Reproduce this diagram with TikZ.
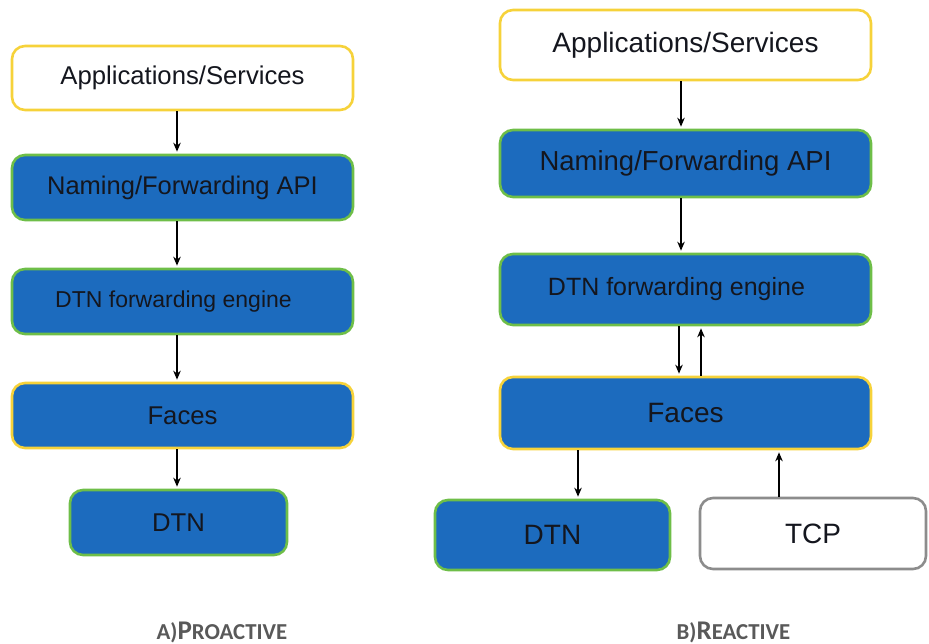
\documentclass[tikz,border=0pt]{standalone}
\usepackage{fontspec}
\setmainfont{Liberation Sans}
\newfontfamily\capfont{Carlito}
\usetikzlibrary{arrows.meta}
\definecolor{boxblue}{RGB}{28,107,190}
\definecolor{bordgreen}{RGB}{110,190,72}
\definecolor{bordyellow}{RGB}{246,210,58}
\definecolor{bordgray}{RGB}{140,140,140}
\definecolor{txtdark}{RGB}{20,22,30}
\definecolor{capgray}{RGB}{89,89,89}
\tikzset{
  layer/.style={rectangle, rounded corners=13pt, line width=2.6pt, inner sep=0pt, text=txtdark},
  bluegreen/.style={layer, fill=boxblue, draw=bordgreen},
  blueyellow/.style={layer, fill=boxblue, draw=bordyellow},
  whiteyellow/.style={layer, fill=white, draw=bordyellow},
  whitegray/.style={layer, fill=white, draw=bordgray},
  lfont/.style={font=\fontsize{25.7}{29}\selectfont},
  rfont/.style={font=\fontsize{28}{32}\selectfont},
  arr/.style={line width=1.9pt, -{Stealth[length=9pt,width=7.5pt]}, shorten >=2pt},
  caption/.style={text=capgray, font=\capfont\bfseries}
}
\newcommand{\bigc}[1]{{\fontsize{27}{30}\selectfont #1}}
\newcommand{\smc}[1]{{\fontsize{22.8}{26}\selectfont #1}}
\begin{document}
\begin{tikzpicture}[x=1pt,y=-1pt]
\useasboundingbox (0,0) rectangle (929,644);
% left column
\node[whiteyellow, lfont, minimum width=341pt, minimum height=64pt] (la) at (182.5,78) {Applications/Services};
\node[bluegreen, font=\fontsize{25.5}{29}\selectfont, minimum width=341pt, minimum height=65pt] (lb) at (182.5,187.5) {Naming/Forwarding API};
\node[bluegreen, font=\fontsize{23}{26}\selectfont, minimum width=341pt, minimum height=65pt] (lc) at (182.5,301.5) {DTN forwarding engine\hspace*{18pt}};
\node[blueyellow, lfont, minimum width=341pt, minimum height=65pt] (ld) at (182.5,415.5) {Faces};
\node[bluegreen, lfont, minimum width=217pt, minimum height=65pt] (le) at (178.5,522.5) {DTN};
\draw[arr] ([xshift=-5.5pt]la.south) -- ([xshift=-5.5pt]lb.north);
\draw[arr] ([xshift=-5.5pt]lb.south) -- ([xshift=-5.5pt]lc.north);
\draw[arr] ([xshift=-5.5pt]lc.south) -- ([xshift=-5.5pt]ld.north);
\draw[arr] ([xshift=-1.5pt]le.north |- ld.south) -- ([xshift=-1.5pt]le.north);
% right column
\node[whiteyellow, rfont, minimum width=371pt, minimum height=70pt] (ra) at (685.5,45) {Applications/Services};
\node[bluegreen, font=\fontsize{27.5}{31}\selectfont, minimum width=371pt, minimum height=67pt] (rb) at (685.5,163.5) {Naming/Forwarding API};
\node[bluegreen, font=\fontsize{25}{29}\selectfont, minimum width=371pt, minimum height=71pt] (rc) at (685.5,289.5) {DTN forwarding engine\hspace*{18pt}};
\node[blueyellow, rfont, minimum width=371pt, minimum height=72pt] (rd) at (685.5,413) {Faces};
\node[bluegreen, rfont, minimum width=235pt, minimum height=70pt] (re) at (552.5,535) {DTN};
\node[whitegray, rfont, minimum width=226pt, minimum height=71pt] (rf) at (813,533.5) {TCP};
\draw[arr] ([xshift=-4.5pt]ra.south) -- ([xshift=-4.5pt]rb.north);
\draw[arr] ([xshift=-4.5pt]rb.south) -- ([xshift=-4.5pt]rc.north);
\draw[arr] ([xshift=-6.5pt]rc.south) -- ([xshift=-6.5pt]rd.north);
\draw[arr] ([xshift=15.5pt]rd.north) -- ([xshift=15.5pt]rc.south);
\draw[arr] ([xshift=25.5pt]re.north |- rd.south) -- ([xshift=25.5pt]re.north);
\draw[arr] ([xshift=-34pt]rf.north) -- ([xshift=-34pt]rf.north |- rd.south);
% captions
\node[caption] (capa) at (222,632) {\smc{A)}\bigc{P}\smc{ROACTIVE}};
\node[caption] (capb) at (733.5,632) {\smc{B)}\bigc{R}\smc{EACTIVE}};
\end{tikzpicture}
\end{document}
